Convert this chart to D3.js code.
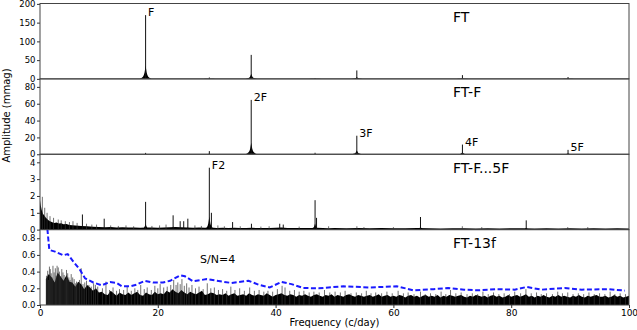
<!DOCTYPE html>
<html>
<head>
<meta charset="utf-8">
<script src="https://cdn.jsdelivr.net/npm/d3@7"></script>
<style>
body { margin: 0; background: #fff; }
text { font-family: "DejaVu Sans", sans-serif; fill: #000; }
</style>
</head>
<body>
<svg id="chart"></svg>
<script>
// ---- data ----
let xTicks = [0, 20, 40, 60, 80, 100]
let panelNames = ['FT', 'FT-F', 'FT-F...5F', 'FT-13f']
let yMax = [201, 89.5, 4.48, 0.903]
let yTicks = [
    [0, 50, 100, 150, 200],
    [0, 20, 40, 60, 80],
    [0, 1, 2, 3, 4],
    [0, 0.2, 0.4, 0.6, 0.8]
]
let yTickFmt = [d3.format('d'), d3.format('d'), d3.format('d'), d3.format('.1f')]

// peaks: [frequency c/day, amplitude]
let peaks1 = [[17.93, 170], [35.86, 64], [53.79, 22.5], [71.72, 10], [89.65, 5], [28.75, 3.7], [46.7, 1.75]]
let peaks2 = [[35.86, 64.5], [53.79, 22], [71.72, 11.5], [89.65, 5.2], [17.93, 1.6], [28.75, 3.7], [46.7, 1.75]]
let peaks3 = [[28.75, 3.68], [17.93, 1.65], [46.7, 1.75], [64.6, 0.75], [82.55, 0.55], [7.2, 0.9], [10.9, 0.65],
    [22.6, 0.85], [25.1, 0.65], [29.1, 1.0], [46.95, 0.7], [23.8, 0.5], [24.4, 0.5], [32.7, 0.45],
    [35.9, 0.35], [40.7, 0.35], [41.3, 0.3]]
let peaks4 = []

// labelled peaks per panel: [frequency, amplitude, text]
let peakLabels = [
    [[17.93, 170, 'F']],
    [[35.86, 64.5, '2F'], [53.79, 22, '3F'], [71.72, 11.5, '4F'], [89.65, 5.2, '5F']],
    [[28.75, 3.68, 'F2']],
    []
]

// panel 3 residual noise level [f, amp]
let noise3 = [[0, 1.75], [0.15, 1.4], [0.3, 1.15], [0.5, 0.95], [0.7, 0.85], [1.0, 0.7], [1.3, 0.6], [1.6, 0.52],
    [2.0, 0.46], [2.4, 0.4], [2.8, 0.43], [3.2, 0.36], [3.6, 0.38], [4.0, 0.32], [4.5, 0.34], [5.0, 0.28],
    [6, 0.25], [7, 0.22], [8, 0.2], [9, 0.17], [10, 0.16], [11, 0.14], [12, 0.15], [13, 0.13], [14, 0.14],
    [15, 0.12], [16, 0.13], [17, 0.11], [18, 0.13], [19, 0.12], [20, 0.11], [21, 0.13], [22, 0.14], [23, 0.15],
    [24, 0.14], [25, 0.13], [26, 0.11], [27, 0.12], [28, 0.11], [29, 0.12], [30, 0.1], [31, 0.11], [32, 0.1],
    [33, 0.11], [34, 0.09], [35, 0.1], [36, 0.11], [37, 0.09], [38, 0.1], [39, 0.09], [40, 0.11], [41, 0.12],
    [42, 0.1], [43, 0.09], [44, 0.1], [45, 0.09], [46, 0.1], [47, 0.11], [48, 0.09], [49, 0.08], [50, 0.09],
    [52, 0.08], [54, 0.09], [56, 0.08], [58, 0.09], [60, 0.08], [62, 0.08], [64, 0.09], [66, 0.08], [68, 0.07],
    [70, 0.08], [72, 0.08], [74, 0.07], [76, 0.08], [78, 0.07], [80, 0.08], [82, 0.08], [84, 0.07], [86, 0.08],
    [88, 0.07], [90, 0.08], [92, 0.07], [94, 0.08], [96, 0.07], [98, 0.08], [100, 0.07]]

let spikes3 = [[0.4, 1.95], [0.8, 1.3], [1.2, 1.0], [1.7, 0.8], [2.3, 0.7], [3.1, 0.6], [3.6, 0.55], [4.3, 0.5],
    [5.0, 0.45], [5.6, 0.5], [6.3, 0.4], [7.9, 0.35], [8.8, 0.3], [9.6, 0.3], [12.0, 0.25], [13.3, 0.22],
    [14.6, 0.25], [15.9, 0.2], [19.0, 0.22], [20.3, 0.25], [21.4, 0.3], [26.3, 0.25], [27.4, 0.22], [30.2, 0.25],
    [31.3, 0.2], [34.0, 0.2], [37.5, 0.18], [38.9, 0.2], [44.0, 0.18], [49.0, 0.2], [53.8, 0.2], [55.0, 0.15],
    [60.0, 0.15], [71.7, 0.2], [75.0, 0.15], [89.6, 0.15], [93.0, 0.15]]

// panel 4 noise, one value every 0.5 c/day from 0.5 to 100 (one row = 5 c/day)
let noise4Start = 0.5
let noise4Step = 0.5
let noise4 = [
    0, 0.31, 0.37, 0.33, 0.27, 0.39, 0.34, 0.29, 0.36, 0.28,
    0.27, 0.22, 0.28, 0.25, 0.19, 0.24, 0.21, 0.17, 0.20, 0.15,
    0.16, 0.13, 0.12, 0.17, 0.14, 0.11, 0.15, 0.13, 0.12, 0.15,
    0.12, 0.14, 0.16, 0.12, 0.11, 0.15, 0.13, 0.12, 0.16, 0.13,
    0.14, 0.13, 0.17, 0.15, 0.19, 0.16, 0.14, 0.18, 0.15, 0.13,
    0.16, 0.14, 0.13, 0.15, 0.17, 0.12, 0.13, 0.15, 0.14, 0.12,
    0.13, 0.12, 0.14, 0.11, 0.13, 0.14, 0.11, 0.12, 0.13, 0.11,
    0.14, 0.12, 0.11, 0.13, 0.12, 0.11, 0.14, 0.12, 0.10, 0.12,
    0.13, 0.14, 0.12, 0.11, 0.13, 0.12, 0.10, 0.12, 0.11, 0.13,
    0.11, 0.10, 0.12, 0.13, 0.11, 0.10, 0.12, 0.11, 0.13, 0.10,
    0.12, 0.11, 0.10, 0.12, 0.13, 0.11, 0.10, 0.12, 0.11, 0.10,
    0.11, 0.12, 0.10, 0.11, 0.13, 0.10, 0.11, 0.12, 0.10, 0.11,
    0.10, 0.12, 0.11, 0.09, 0.11, 0.12, 0.10, 0.11, 0.09, 0.11,
    0.12, 0.10, 0.11, 0.10, 0.12, 0.09, 0.11, 0.10, 0.12, 0.11,
    0.10, 0.11, 0.12, 0.10, 0.09, 0.11, 0.10, 0.12, 0.11, 0.10,
    0.11, 0.09, 0.11, 0.12, 0.10, 0.11, 0.09, 0.10, 0.12, 0.10,
    0.11, 0.12, 0.10, 0.11, 0.13, 0.10, 0.11, 0.09, 0.11, 0.10,
    0.12, 0.10, 0.09, 0.11, 0.10, 0.12, 0.10, 0.11, 0.10, 0.09,
    0.11, 0.10, 0.12, 0.10, 0.09, 0.11, 0.10, 0.11, 0.12, 0.10,
    0.10, 0.11, 0.09, 0.10, 0.12, 0.10, 0.11, 0.09, 0.10, 0.11
]

let spikes4 = [[1.1, 0.35], [1.3, 0.41], [1.45, 0.30], [1.6, 0.46], [1.75, 0.43], [1.9, 0.38], [2.05, 0.33],
    [2.2, 0.47], [2.4, 0.39], [2.6, 0.44], [2.75, 0.35], [2.9, 0.47], [3.1, 0.45], [3.3, 0.40], [3.5, 0.34],
    [3.7, 0.43], [3.9, 0.39], [4.1, 0.36], [4.3, 0.31], [4.5, 0.42], [4.7, 0.38], [4.9, 0.33], [5.1, 0.30],
    [5.3, 0.37], [5.55, 0.33], [5.8, 0.31], [6.0, 0.26], [6.2, 0.28], [6.45, 0.27], [6.7, 0.30], [7.0, 0.44],
    [7.3, 0.25], [7.6, 0.27], [7.9, 0.29], [8.3, 0.24], [8.7, 0.22], [9.1, 0.26], [9.4, 0.24], [9.8, 0.22],
    [10.6, 0.20], [11.2, 0.28], [11.8, 0.18], [12.4, 0.21], [13.0, 0.17], [13.5, 0.19], [14.2, 0.18],
    [14.8, 0.22], [15.5, 0.17], [16.1, 0.20], [16.6, 0.18], [17.1, 0.24], [17.7, 0.19], [18.2, 0.21],
    [18.9, 0.18], [19.5, 0.23], [20.0, 0.2], [20.4, 0.25], [21.0, 0.21], [21.6, 0.22], [22.2, 0.24],
    [22.7, 0.30], [23.1, 0.24], [23.4, 0.27], [23.8, 0.25], [24.1, 0.31], [24.5, 0.23], [24.9, 0.26],
    [25.3, 0.21], [25.8, 0.24], [26.4, 0.2], [27.0, 0.22], [27.7, 0.19], [28.4, 0.26], [29.0, 0.2],
    [29.6, 0.21], [30.3, 0.18], [31.0, 0.19], [31.7, 0.17], [32.4, 0.22], [33.1, 0.18], [33.9, 0.20],
    [34.7, 0.17], [35.6, 0.21], [36.4, 0.17], [37.2, 0.18], [38.0, 0.16], [38.7, 0.17], [39.5, 0.16],
    [40.3, 0.19], [41.1, 0.23], [41.6, 0.21], [42.4, 0.17], [43.2, 0.18], [44.0, 0.16], [44.8, 0.17],
    [45.7, 0.15], [46.5, 0.16], [47.4, 0.15], [48.3, 0.18], [49.2, 0.15], [50.1, 0.16], [51.0, 0.15],
    [51.8, 0.17], [52.8, 0.14], [53.7, 0.15], [54.6, 0.14], [55.4, 0.17], [56.2, 0.14], [57.0, 0.15],
    [58.0, 0.14], [58.9, 0.16], [59.8, 0.14], [60.8, 0.17], [61.7, 0.14], [62.5, 0.15], [63.5, 0.13],
    [64.6, 0.16], [65.4, 0.13], [66.3, 0.14], [67.2, 0.13], [68.1, 0.16], [68.9, 0.13], [69.7, 0.18],
    [70.6, 0.14], [71.5, 0.15], [72.5, 0.13], [73.4, 0.14], [74.3, 0.13], [75.2, 0.16], [76.1, 0.13],
    [77.0, 0.15], [77.9, 0.13], [78.8, 0.14], [79.7, 0.13], [80.6, 0.16], [81.6, 0.14], [82.5, 0.19],
    [83.4, 0.14], [84.3, 0.15], [85.1, 0.13], [86.0, 0.14], [87.0, 0.13], [87.9, 0.16], [88.7, 0.14],
    [89.6, 0.15], [90.5, 0.13], [91.4, 0.14], [92.3, 0.13], [93.2, 0.15], [94.1, 0.13], [95.0, 0.14],
    [95.9, 0.13], [96.8, 0.16], [97.6, 0.13], [98.5, 0.14], [99.4, 0.13]]

// S/N=4 level in FT-13f
let snLine = [[1.2, 1.0], [1.24, 0.92], [1.58, 0.66], [2.55, 0.64], [3.96, 0.596], [4.7, 0.61], [5.66, 0.52],
    [6.8, 0.42], [7.64, 0.32], [9.05, 0.27], [10.5, 0.236], [11.9, 0.276], [13.0, 0.264], [13.9, 0.224],
    [15.3, 0.224], [16.4, 0.244], [17.8, 0.29], [19.2, 0.27], [20.9, 0.27], [22.1, 0.29], [23.8, 0.356],
    [24.6, 0.344], [26.0, 0.284], [28.3, 0.31], [30.6, 0.284], [32.5, 0.264], [35.4, 0.29], [37.1, 0.244],
    [39.0, 0.21], [41.0, 0.276], [42.7, 0.25], [44.7, 0.204], [47.3, 0.2], [49.0, 0.21], [51.5, 0.224],
    [56.0, 0.21], [60.6, 0.224], [63.4, 0.176], [66.8, 0.19], [69.3, 0.204], [72.0, 0.184], [74.4, 0.176],
    [77.3, 0.19], [80.6, 0.184], [82.6, 0.216], [85.2, 0.184], [89.1, 0.204], [92.0, 0.184], [96.5, 0.19],
    [99.3, 0.172]]

// ---- layout ----
let width = 637
let height = 330
let plotLeft = 40
let plotRight = 629
let plotTop = 3.5
let plotBottom = 305
let panelH = (plotBottom - plotTop) / 4

// shape of the window skirt around a peak (offset in c/day, fraction of amplitude)
let skirtDx = [-1.0, -0.7, -0.45, -0.3, -0.18, -0.08, 0, 0.08, 0.18, 0.3, 0.45, 0.7, 1.0]
let skirtRel = [0, 0.015, 0.035, 0.06, 0.1, 0.16, 0.21, 0.16, 0.1, 0.06, 0.035, 0.015, 0]

let svg = d3.select('#chart')
            .attr('width', width)
            .attr('height', height)

let x = d3.scaleLinear().domain([0, 100]).range([plotLeft, plotRight])

let panels = [
    { peaks: peaks1, noise: [], spikes: [] },
    { peaks: peaks2, noise: [], spikes: [] },
    { peaks: peaks3, noise: noise3, spikes: spikes3 },
    { peaks: peaks4, noise: noise4.map((v, i) => [noise4Start + i * noise4Step, v]), spikes: spikes4 }
]

panels.forEach((p, i) => {
    let y0 = plotTop + i * panelH
    let y = d3.scaleLinear().domain([0, yMax[i]]).range([y0 + panelH, y0])

    svg.append('clipPath').attr('id', 'clip' + i)
       .append('rect').attr('x', plotLeft).attr('y', y0).attr('width', plotRight - plotLeft).attr('height', panelH)

    let g = svg.append('g').attr('clip-path', 'url(#clip' + i + ')')

    // noise floor
    if (p.noise.length) {
        let area = d3.area()
                     .defined(d => d[1] > 0)
                     .x(d => x(d[0]))
                     .y0(y(0))
                     .y1(d => y(d[1]))
        g.append('path')
         .datum(p.noise)
         .attr('d', area)
         .attr('fill', '#000')
    }

    // thin noise spikes
    g.selectAll('.spike')
     .data(p.spikes)
     .enter()
     .append('line')
     .attr('class', 'spike')
     .attr('x1', d => x(d[0])).attr('x2', d => x(d[0]))
     .attr('y1', y(0)).attr('y2', d => y(d[1]))
     .attr('stroke', '#333')
     .attr('stroke-width', 0.7)

    // peaks with skirts
    let skirt = d3.area()
                  .x(d => x(d[0]))
                  .y0(y(0))
                  .y1(d => y(d[1]))
    p.peaks.forEach(pk => {
        let pts = skirtDx.map((dx, k) => [pk[0] + dx, pk[1] * skirtRel[k]])
        g.append('path').datum(pts).attr('d', skirt).attr('fill', '#000')
        g.append('line')
         .attr('x1', x(pk[0])).attr('x2', x(pk[0]))
         .attr('y1', y(0)).attr('y2', y(pk[1]))
         .attr('stroke', '#111')
         .attr('stroke-width', 1)
    })

    // S/N line
    if (i === 3) {
        g.append('path')
         .datum(snLine)
         .attr('d', d3.line().x(d => x(d[0])).y(d => y(d[1])))
         .attr('fill', 'none')
         .attr('stroke', '#1a1aff')
         .attr('stroke-width', 2)
         .attr('stroke-dasharray', '5,2.5')
    }

    // y axis
    let yAxis = svg.append('g')
                   .attr('transform', 'translate(' + plotLeft + ',0)')
                   .call(d3.axisLeft(y).tickValues(yTicks[i]).tickFormat(yTickFmt[i]).tickSize(3).tickPadding(1.5))
    yAxis.select('.domain').remove()
    yAxis.selectAll('line').attr('stroke', '#333')
    yAxis.selectAll('text').style('font-size', '8.5px').style('font-family', 'DejaVu Sans')

    // frame
    svg.append('rect')
       .attr('x', plotLeft).attr('y', y0)
       .attr('width', plotRight - plotLeft).attr('height', panelH)
       .attr('fill', 'none')
       .attr('stroke', '#444')
       .attr('stroke-width', 1)

    // panel name
    svg.append('text')
       .attr('x', 453).attr('y', y0 + 18.5)
       .style('font-size', '14px')
       .text(panelNames[i])

    // peak labels
    peakLabels[i].forEach(l => {
        svg.append('text')
           .attr('x', x(l[0]) + 2.5)
           .attr('y', y(l[1]) + 1)
           .style('font-size', '11px')
           .text(l[2])
    })
})

// S/N label
svg.append('text')
   .attr('x', 200).attr('y', 263)
   .style('font-size', '11px')
   .text('S/N=4')

// x axis
let xAxis = svg.append('g')
               .attr('transform', 'translate(0,' + plotBottom + ')')
               .call(d3.axisBottom(x).tickValues(xTicks).tickSize(3).tickPadding(1.5))
xAxis.select('.domain').remove()
xAxis.selectAll('line').attr('stroke', '#333')
xAxis.selectAll('text').style('font-size', '9px').style('font-family', 'DejaVu Sans')

svg.append('text')
   .attr('x', (plotLeft + plotRight) / 2).attr('y', 326)
   .attr('text-anchor', 'middle')
   .style('font-size', '10px')
   .text('Frequency (c/day)')

svg.append('text')
   .attr('transform', 'translate(9.5,115.5) rotate(-90)')
   .attr('text-anchor', 'middle')
   .style('font-size', '10px')
   .text('Amplitude (mmag)')
</script>
</body>
</html>
